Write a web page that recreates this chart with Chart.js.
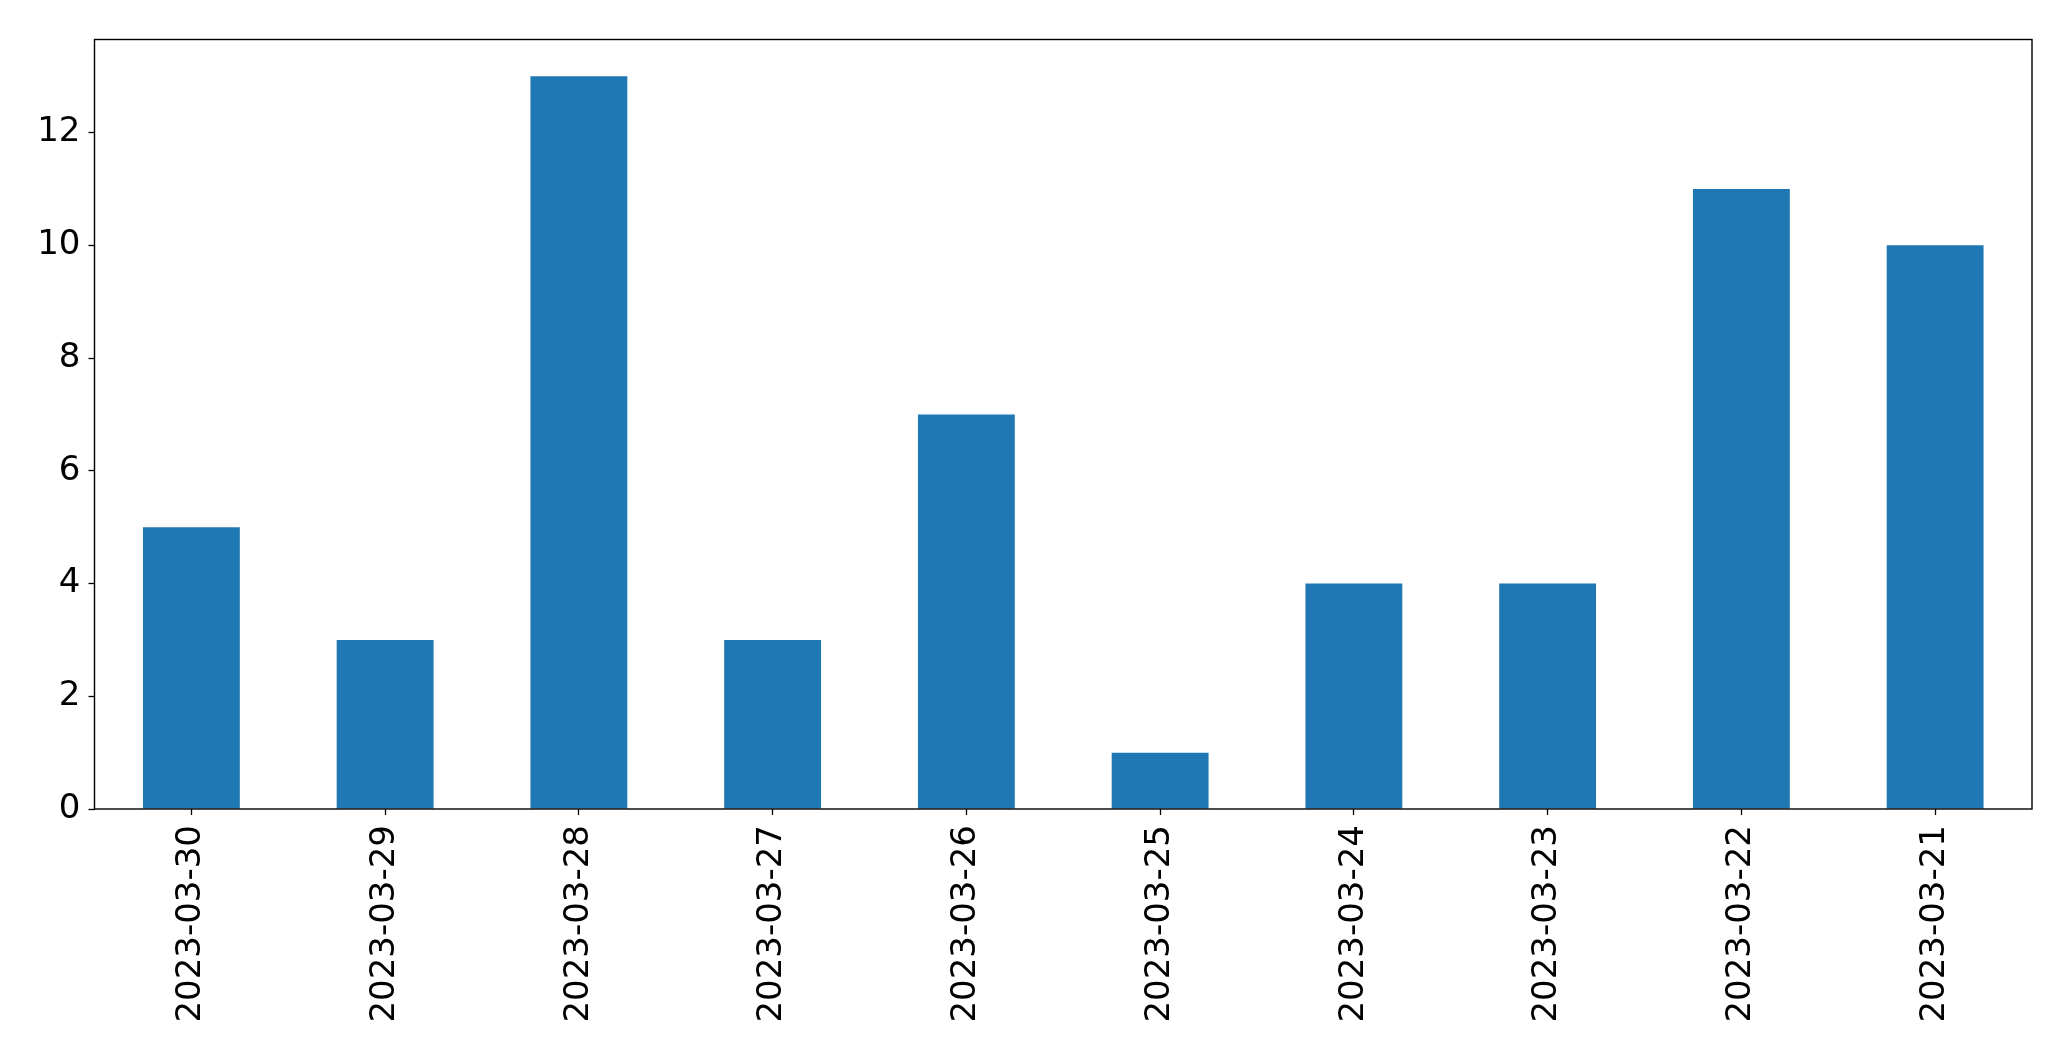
<!DOCTYPE html>
<html>
<head>
<meta charset="utf-8">
<script src="https://cdn.jsdelivr.net/npm/chart.js@4/dist/chart.umd.min.js"></script>
<style>
  body { margin: 0; background: #fff; }
</style>
</head>
<body>
<canvas id="barChart" width="2071" height="1061"></canvas>
<script>
// data
var dates = ['2023-03-30', '2023-03-29', '2023-03-28', '2023-03-27', '2023-03-26',
             '2023-03-25', '2023-03-24', '2023-03-23', '2023-03-22', '2023-03-21'];
var counts = [5, 3, 13, 3, 7, 1, 4, 4, 11, 10];
var yTicks = [0, 2, 4, 6, 8, 10, 12];

// box around the plot, like matplotlib spines
var frame = {
    id: 'frame',
    afterDatasetsDraw: function (chart) {
        var a = chart.chartArea, c = chart.ctx;
        c.save();
        c.strokeStyle = '#000';
        c.lineWidth = 1.4;
        c.strokeRect(a.left, a.top, a.right - a.left, a.bottom - a.top);
        c.restore();
    }
};

var ctx = document.getElementById('barChart').getContext('2d');
var barChart = new Chart(ctx, {
    type: 'bar',
    data: {
        labels: dates,
        datasets: [{
            data: counts,
            backgroundColor: '#1f77b4',
            categoryPercentage: 1.0,
            barPercentage: 0.5
        }]
    },
    options: {
        responsive: false,
        animation: false,
        layout: { padding: { top: 39.5, right: 39, left: 0, bottom: 0 } },
        plugins: { legend: { display: false }, tooltip: { enabled: false } },
        scales: {
            x: {
                offset: true,
                grid: { display: true, offset: false, drawOnChartArea: false, tickLength: 6, tickColor: '#000', tickWidth: 1.3 },
                border: { display: false },
                ticks: {
                    color: '#000',
                    font: { family: 'DejaVu Sans', size: 34 },
                    minRotation: 90,
                    maxRotation: 90,
                    autoSkip: false,
                    padding: 10
                },
                afterFit: function (scale) { scale.height = 252; }
            },
            y: {
                min: 0,
                max: 13.65,
                grid: { display: true, drawOnChartArea: false, tickLength: 6, tickColor: '#000', tickWidth: 1.3 },
                border: { display: false },
                ticks: {
                    color: '#000',
                    font: { family: 'DejaVu Sans', size: 34 },
                    padding: 8
                },
                afterBuildTicks: function (scale) {
                    scale.ticks = yTicks.map(function (v) { return { value: v }; });
                },
                afterFit: function (scale) { scale.width = 94.5; }
            }
        }
    },
    plugins: [frame]
});
</script>
</body>
</html>
